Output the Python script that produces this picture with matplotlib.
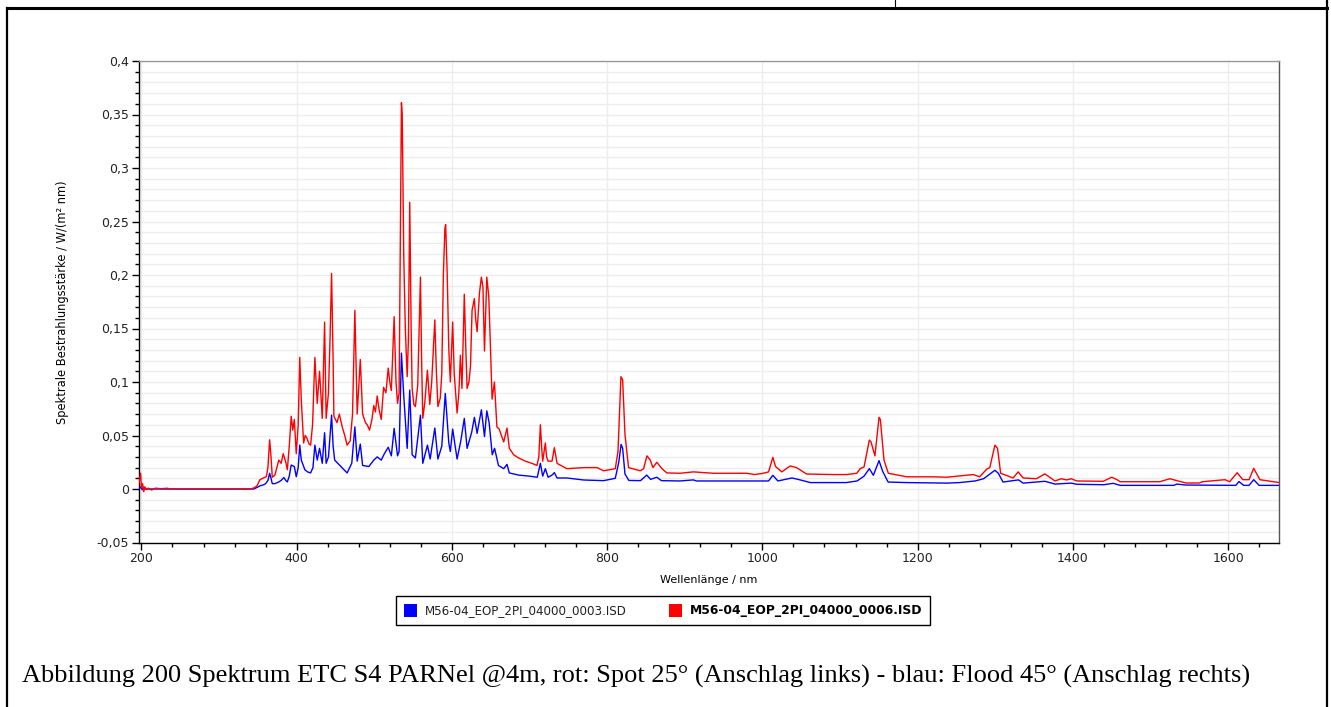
import matplotlib.pyplot as plt
import numpy as np
from matplotlib.lines import Line2D
from matplotlib.patches import Rectangle
from matplotlib.ticker import FuncFormatter, MultipleLocator

# red series: M56-04_EOP_2PI_04000_0006.ISD (Spot 25°)
wl_red = [
    197, 199, 200, 201.5, 203, 204.5, 206, 209, 213, 218, 225, 233, 238, 245, 300, 340,
    345, 349, 352.7, 357, 361, 363, 365.2, 367, 368.6, 372, 377, 380, 382.7, 386, 388,
    390.5, 393, 395, 397, 399.5, 402, 404, 406, 409, 411, 413, 416, 418, 420.5, 423.5,
    426.5, 429.5, 433, 436, 438, 441, 443, 445, 447, 448, 452, 455, 458.7, 462, 465,
    469, 472, 475, 478, 482, 485, 488.7, 491, 493.9, 497, 499.4, 501.5, 503.8, 506,
    509, 512, 515, 518, 520, 522, 525.6, 528, 530, 532, 535, 536, 538, 540, 542.4,
    544, 545.7, 547.5, 548.8, 551, 553, 556, 559.5, 561, 562.5, 565, 568.5, 571.5,
    574, 578, 580, 582, 585, 587, 589, 591, 592, 594, 596, 598, 601, 603, 606.7, 609,
    611, 613, 616, 618, 619.6, 622, 624, 626, 629, 630.5, 632.5, 635.5, 638, 640, 642,
    645, 647.5, 649.6, 651.8, 654.8, 658, 661, 663.8, 666.8, 671, 674, 679.6, 686,
    694.7, 703, 709.7, 712, 714, 716, 717, 720.4, 722, 724, 729, 732, 735.5, 748, 770,
    787, 795.5, 810.5, 814, 817.8, 820, 823, 827.6, 842.7, 847, 851.3, 855.6, 859,
    864, 870.6, 877, 894, 911, 937, 980, 990, 1001, 1008, 1013.5, 1017, 1025, 1035.8,
    1044, 1057, 1091.5, 1108.7, 1121.6, 1126, 1131, 1137.8, 1140, 1145, 1150.3, 1152,
    1156.7, 1162.3, 1186, 1220, 1237.5, 1271.7, 1280, 1289, 1293, 1299.6, 1303, 1307,
    1323, 1329.6, 1336, 1353, 1364, 1377, 1385, 1392, 1398, 1405, 1439, 1450, 1457,
    1461, 1512, 1525, 1534, 1546, 1563, 1567, 1596, 1602, 1611.7, 1619, 1627, 1633,
    1641, 1658, 1666,
]
val_red = [
    0.006, 0.0147, 0.001, 0.005, -0.0025, 0.002, -0.0006, 0.0008, -0.001, 0.0008,
    0.0003, 0.0007, 0.0, 0.0, 0.0, 0.0,
    0.001, 0.003, 0.0087, 0.0103, 0.0115, 0.02, 0.046, 0.03, 0.011, 0.013, 0.027, 0.024,
    0.033, 0.025, 0.018,
    0.04, 0.068, 0.055, 0.065, 0.033, 0.06, 0.123, 0.083, 0.043, 0.05, 0.048, 0.042,
    0.041, 0.06, 0.123,
    0.080, 0.110, 0.066, 0.156, 0.066, 0.09, 0.14, 0.2015, 0.12, 0.068, 0.062, 0.07,
    0.058, 0.05, 0.041,
    0.045, 0.07, 0.167, 0.070, 0.121, 0.070, 0.062, 0.06, 0.055, 0.065, 0.078, 0.072,
    0.087, 0.075,
    0.065, 0.095, 0.09, 0.113, 0.1, 0.092, 0.161, 0.1, 0.08, 0.09, 0.361, 0.35, 0.217,
    0.15, 0.105,
    0.14, 0.268, 0.15, 0.094, 0.079, 0.077, 0.097, 0.198, 0.12, 0.066, 0.080, 0.111,
    0.079,
    0.1, 0.158, 0.11, 0.077, 0.085, 0.108, 0.2, 0.2435, 0.247, 0.2, 0.131, 0.1, 0.156,
    0.108, 0.071, 0.09,
    0.125, 0.094, 0.182, 0.13, 0.094, 0.1, 0.115, 0.167, 0.178, 0.16, 0.147, 0.183,
    0.198, 0.189, 0.129,
    0.198, 0.180, 0.135, 0.084, 0.100, 0.058, 0.056, 0.05, 0.044, 0.057, 0.038, 0.032,
    0.029,
    0.026, 0.024, 0.022, 0.03, 0.060, 0.035, 0.026, 0.043, 0.03, 0.026, 0.026, 0.0386,
    0.024, 0.019, 0.020,
    0.020, 0.017, 0.019, 0.035, 0.105, 0.102, 0.051, 0.020, 0.017, 0.019, 0.031, 0.027,
    0.020,
    0.025, 0.019, 0.015, 0.0147, 0.016, 0.0147, 0.0147, 0.0135, 0.0147, 0.016, 0.0296,
    0.021, 0.016, 0.0215,
    0.020, 0.014, 0.0135, 0.0135, 0.0147, 0.019, 0.0206, 0.0457, 0.044, 0.031, 0.067,
    0.065,
    0.027, 0.0147, 0.0114, 0.0114, 0.011, 0.0135, 0.0114, 0.0186, 0.020, 0.041, 0.038,
    0.0147,
    0.0103, 0.016, 0.0103, 0.0096, 0.0141, 0.0075, 0.0096, 0.0085, 0.0096, 0.0075,
    0.0072, 0.011, 0.0087,
    0.0068, 0.0068, 0.0096, 0.0078, 0.0056, 0.0056, 0.0068, 0.0087, 0.0068, 0.0152,
    0.0087, 0.0087, 0.0193,
    0.0087, 0.0068, 0.006,
]

# blue series: M56-04_EOP_2PI_04000_0003.ISD (Flood 45°)
wl_blue = [
    197, 199, 201, 203, 206, 240, 345, 349, 353, 357.8, 360, 363, 365.2, 367, 368.6,
    372, 377, 380, 383.5, 386, 388, 390.5, 393, 397, 399.5, 402, 404, 406, 410.6, 414,
    418, 421, 423.5, 426.5, 429.5, 433, 436, 438, 441, 443, 445, 447, 449, 457, 465,
    471, 475, 478, 482, 485, 493, 499.4, 503.8, 509, 513, 518, 522, 525.6, 530, 532,
    535, 538, 542.4, 545.7, 548.8, 553, 559.5, 562.5, 568.5, 572, 578, 582, 587,
    591.5, 596, 598, 601, 606.7, 611.5, 616, 619.6, 625.5, 629, 632.5, 638, 642, 645,
    648, 652, 655, 660, 666.8, 671, 674, 686, 700, 710, 714, 717, 720.4, 724, 729, 732,
    735.5, 748, 770, 795.5, 810.5, 815, 818, 820, 823, 828, 843, 851, 856, 864, 870,
    894, 911, 915, 1008, 1013.5, 1020, 1038, 1046, 1062, 1108, 1122, 1131, 1137.8,
    1143, 1150.3, 1155, 1162, 1186, 1238, 1254, 1274, 1285, 1299.6, 1304, 1310, 1330,
    1336, 1364, 1377, 1398, 1405, 1440, 1452, 1461, 1530, 1534, 1545, 1610, 1614,
    1620, 1627, 1633, 1640, 1666,
]
val_blue = [
    0.0, 0.002, -0.0008, 0.0017, 0.0, 0.0, 0.0, 0.0015, 0.003, 0.004, 0.005, 0.008,
    0.0147, 0.01, 0.005,
    0.005, 0.0066, 0.008, 0.0107, 0.008, 0.0066, 0.012, 0.0224, 0.021, 0.0115, 0.02,
    0.041, 0.027, 0.018, 0.016,
    0.015, 0.02, 0.041, 0.027, 0.038, 0.024, 0.0526, 0.024, 0.03, 0.05, 0.069, 0.04,
    0.027, 0.021, 0.015,
    0.024, 0.058, 0.026, 0.042, 0.022, 0.021, 0.027, 0.030, 0.027, 0.033, 0.039, 0.031,
    0.0567, 0.031, 0.035,
    0.127, 0.087, 0.038, 0.0925, 0.032, 0.029, 0.069, 0.024, 0.041, 0.028, 0.057, 0.028,
    0.040,
    0.0894, 0.043, 0.035, 0.056, 0.028, 0.045, 0.066, 0.038, 0.053, 0.067, 0.052, 0.074,
    0.049, 0.073,
    0.062, 0.032, 0.038, 0.022, 0.019, 0.023, 0.015, 0.013, 0.012, 0.011, 0.024, 0.012,
    0.019, 0.011, 0.013, 0.0153,
    0.0103, 0.0103, 0.0084, 0.0078, 0.010, 0.025, 0.0417, 0.038, 0.014, 0.008, 0.0078,
    0.013, 0.009, 0.011, 0.0078,
    0.0075, 0.0085, 0.0075, 0.0075, 0.0128, 0.0075, 0.0103, 0.009, 0.006, 0.006, 0.0075,
    0.012, 0.019,
    0.0128, 0.0265, 0.0165, 0.0065, 0.006, 0.0055, 0.006, 0.0075, 0.0096, 0.0175,
    0.0147, 0.0065, 0.0085,
    0.0055, 0.0072, 0.0046, 0.0055, 0.0044, 0.004, 0.0053, 0.0034, 0.0034, 0.0046,
    0.0037, 0.0034, 0.007,
    0.0034, 0.0034, 0.0087, 0.0034, 0.0034,
]

label_blue = "M56-04_EOP_2PI_04000_0003.ISD"
label_red = "M56-04_EOP_2PI_04000_0006.ISD"
caption = ("Abbildung 200 Spektrum ETC S4 PARNel @4m, rot: Spot 25° (Anschlag links)"
           " - blau: Flood 45° (Anschlag rechts)")

W, H = 1331, 707
fig = plt.figure(figsize=(W / 100, H / 100), dpi=100)
ax = fig.add_axes([139 / W, 1 - 542.5 / H, 1140 / W, 481.5 / H])

ax.plot(wl_blue, val_blue, color="#0000ff", lw=1.0, zorder=3)
ax.plot(wl_red, val_red, color="#ff0000", lw=1.0, zorder=4)

ax.set_xlim(196.9, 1665.6)
ax.set_ylim(-0.05, 0.4)

ax.xaxis.set_major_locator(MultipleLocator(200))
ax.xaxis.set_minor_locator(MultipleLocator(40))
ax.yaxis.set_major_locator(MultipleLocator(0.05))
ax.yaxis.set_minor_locator(MultipleLocator(0.01))


def comma_fmt(v, pos):
    s = f"{v:.2f}".rstrip("0").rstrip(".")
    if s in ("-0", ""):
        s = "0"
    return s.replace(".", ",")


ax.yaxis.set_major_formatter(FuncFormatter(comma_fmt))

ax.grid(axis="y", which="both", color="#ededed", lw=1.0, zorder=0)
ax.grid(axis="x", which="major", color="#ededed", lw=1.0, zorder=0)
ax.set_axisbelow(True)

ax.tick_params(which="major", direction="out", length=5, width=1, color="black",
               labelsize=9, pad=2)
ax.tick_params(which="minor", direction="out", length=3, width=1, color="black")
for lbl in ax.get_xticklabels() + ax.get_yticklabels():
    lbl.set_color("#222222")

ax.spines["left"].set_color("black")
ax.spines["bottom"].set_color("black")
ax.spines["top"].set_color("#999999")
ax.spines["right"].set_color("#555555")
for s in ax.spines.values():
    s.set_linewidth(1.0)

ax.set_xlabel("Wellenlänge / nm", fontsize=8, labelpad=7)
ax.set_ylabel("Spektrale Bestrahlungsstärke / W/(m² nm)", fontsize=8.3, labelpad=20)


# legend box drawn in figure pixels
def fx(px):
    return px / W


def fy(py):
    return 1 - py / H


fig.patches.append(Rectangle((fx(396), fy(625)), fx(930) - fx(396), fy(596) - fy(625),
                             transform=fig.transFigure, fill=False, ec="black", lw=1.0))
fig.patches.append(Rectangle((fx(404), fy(617)), 13 / W, 13 / H,
                             transform=fig.transFigure, fc="#0000ff", ec="none"))
fig.patches.append(Rectangle((fx(669), fy(617)), 13 / W, 13 / H,
                             transform=fig.transFigure, fc="#ff0000", ec="none"))
fig.text(fx(425), fy(610.5), label_blue, fontsize=8.6, va="center", ha="left",
         color="#222222")
fig.text(fx(690), fy(610.5), label_red, fontsize=8.9, va="center", ha="left",
         fontweight="bold")

fig.text(fx(22), fy(676), caption, fontsize=19, va="center", ha="left",
         family="Liberation Serif")

# page / table border lines
fig.add_artist(Line2D([fx(7), fx(7)], [fy(8), 0], transform=fig.transFigure,
                      color="black", lw=1.6))
fig.add_artist(Line2D([fx(1327), fx(1327)], [1, 0], transform=fig.transFigure,
                      color="black", lw=1.6))
fig.add_artist(Line2D([fx(7), fx(1327)], [fy(8), fy(8)], transform=fig.transFigure,
                      color="black", lw=2.2))
fig.add_artist(Line2D([fx(895), fx(895)], [1, fy(8)], transform=fig.transFigure,
                      color="black", lw=0.8))

fig.savefig("out.png", dpi=100)
